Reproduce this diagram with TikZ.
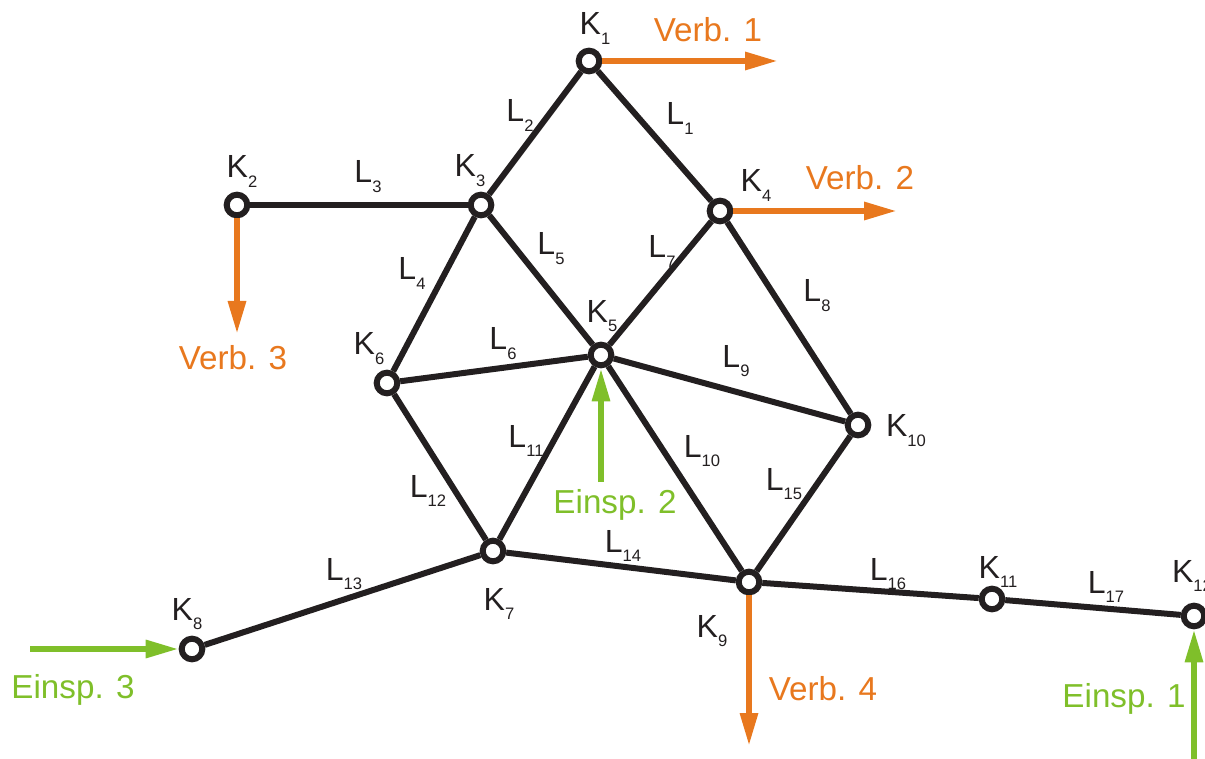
\documentclass[tikz,border=0pt]{standalone}
\usepackage{fontspec}
\setmainfont{Liberation Sans}
\usepackage{xcolor}
\definecolor{netline}{HTML}{231F20}
\definecolor{verbcol}{HTML}{E8781E}
\definecolor{einspcol}{HTML}{7FBF2A}
\usepackage{tikz}
\usetikzlibrary{arrows.meta,backgrounds}
\newcommand{\ix}[2]{#1\raisebox{-0.55ex}{\fontsize{8.3}{8.3}\selectfont #2}}

\begin{document}
\begin{tikzpicture}[x=0.5pt, y=-0.5pt,
    knot/.style={circle, draw=netline, fill=white, line width=3pt, inner sep=0pt, minimum size=10.3pt},
    pipe/.style={draw=netline, line width=3pt},
    lbl/.style={font=\fontsize{16}{16}\selectfont, text=netline, inner sep=0pt, anchor=base},
    flowtxt/.style={font=\fontsize{16.6}{17}\selectfont, inner sep=0pt, anchor=base},
    verb/.style={draw=verbcol, line width=3pt, -{Triangle[length=16.5pt, width=8.5pt]}},
    einsp/.style={draw=einspcol, line width=3pt, -{Triangle[length=16.5pt, width=8.5pt]}}]
  \useasboundingbox (0,0) rectangle (1205,759);
  % Knoten
  \node[knot] (K1) at (589, 61) {};
  \node[knot] (K2) at (237, 205) {};
  \node[knot] (K3) at (481, 205) {};
  \node[knot] (K4) at (720, 211) {};
  \node[knot] (K5) at (601, 355) {};
  \node[knot] (K6) at (387, 383) {};
  \node[knot] (K7) at (493, 551) {};
  \node[knot] (K8) at (192, 649) {};
  \node[knot] (K9) at (749, 582) {};
  \node[knot] (K10) at (858, 425) {};
  \node[knot] (K11) at (992, 599) {};
  \node[knot] (K12) at (1194, 616) {};
  % Leitungen
  \begin{scope}[on background layer]
    \draw[pipe] (K1) -- (K4);
    \draw[pipe] (K1) -- (K3);
    \draw[pipe] (K2) -- (K3);
    \draw[pipe] (K3) -- (K6);
    \draw[pipe] (K3) -- (K5);
    \draw[pipe] (K6) -- (K5);
    \draw[pipe] (K5) -- (K4);
    \draw[pipe] (K4) -- (K10);
    \draw[pipe] (K5) -- (K10);
    \draw[pipe] (K5) -- (K9);
    \draw[pipe] (K7) -- (K5);
    \draw[pipe] (K6) -- (K7);
    \draw[pipe] (K8) -- (K7);
    \draw[pipe] (K7) -- (K9);
    \draw[pipe] (K9) -- (K10);
    \draw[pipe] (K9) -- (K11);
    \draw[pipe] (K11) -- (K12);
  \end{scope}
  % Knotennamen
  \node[lbl] (nK1) at (595, 35) {\ix{K}{1}};
  \node[lbl] (nK2) at (242, 178) {\ix{K}{2}};
  \node[lbl] (nK3) at (470, 177) {\ix{K}{3}};
  \node[lbl] (nK4) at (756, 192) {\ix{K}{4}};
  \node[lbl] (nK5) at (602, 322) {\ix{K}{5}};
  \node[lbl] (nK6) at (369, 355) {\ix{K}{6}};
  \node[lbl] (nK7) at (499, 610) {\ix{K}{7}};
  \node[lbl] (nK8) at (187, 620) {\ix{K}{8}};
  \node[lbl] (nK9) at (712, 637) {\ix{K}{9}};
  \node[lbl] (nK10) at (906, 437) {\ix{K}{10}};
  \node[lbl] (nK11) at (998, 578) {\ix{K}{11}};
  \node[lbl] (nK12) at (1192, 582) {\ix{K}{12}};
  % Leitungsnamen
  \node[lbl] (nL1) at (680, 125) {\ix{L}{1}};
  \node[lbl] (nL2) at (520, 122) {\ix{L}{2}};
  \node[lbl] (nL3) at (368, 183) {\ix{L}{3}};
  \node[lbl] (nL4) at (412, 280) {\ix{L}{4}};
  \node[lbl] (nL5) at (551, 255) {\ix{L}{5}};
  \node[lbl] (nL6) at (503, 350) {\ix{L}{6}};
  \node[lbl] (nL7) at (662, 258) {\ix{L}{7}};
  \node[lbl] (nL8) at (817, 302) {\ix{L}{8}};
  \node[lbl] (nL9) at (736, 367) {\ix{L}{9}};
  \node[lbl] (nL10) at (702, 457) {\ix{L}{10}};
  \node[lbl] (nL11) at (526, 447) {\ix{L}{11}};
  \node[lbl] (nL12) at (428, 497) {\ix{L}{12}};
  \node[lbl] (nL13) at (344, 580) {\ix{L}{13}};
  \node[lbl] (nL14) at (623, 552) {\ix{L}{14}};
  \node[lbl] (nL15) at (784, 490) {\ix{L}{15}};
  \node[lbl] (nL16) at (888, 580) {\ix{L}{16}};
  \node[lbl] (nL17) at (1106, 593) {\ix{L}{17}};
  % Verbraucher
  \coordinate (v1) at (778, 61);
  \coordinate (v2) at (897, 211);
  \coordinate (v3) at (237, 334);
  \coordinate (v4) at (749, 746);
  \draw[verb] (K1) -- (v1);
  \draw[verb] (K4) -- (v2);
  \draw[verb] (K2) -- (v3);
  \draw[verb] (K9) -- (v4);
  \node[flowtxt, text=verbcol] (tv1) at (708, 42) {Verb. 1};
  \node[flowtxt, text=verbcol] (tv2) at (860, 190) {Verb. 2};
  \node[flowtxt, text=verbcol] (tv3) at (233, 370) {Verb. 3};
  \node[flowtxt, text=verbcol] (tv4) at (823, 700) {Verb. 4};
  % Einspeisungen
  \coordinate (e1) at (1194, 760);
  \coordinate (e2) at (601, 482);
  \coordinate (e3) at (30, 649);
  \draw[einsp] (e1) -- (K12);
  \draw[einsp] (e2) -- (K5);
  \draw[einsp] (e3) -- (K8);
  \node[flowtxt, text=einspcol] (te1) at (1124, 707) {Einsp. 1};
  \node[flowtxt, text=einspcol] (te2) at (615, 513) {Einsp. 2};
  \node[flowtxt, text=einspcol] (te3) at (73, 698) {Einsp. 3};
\end{tikzpicture}
\end{document}
